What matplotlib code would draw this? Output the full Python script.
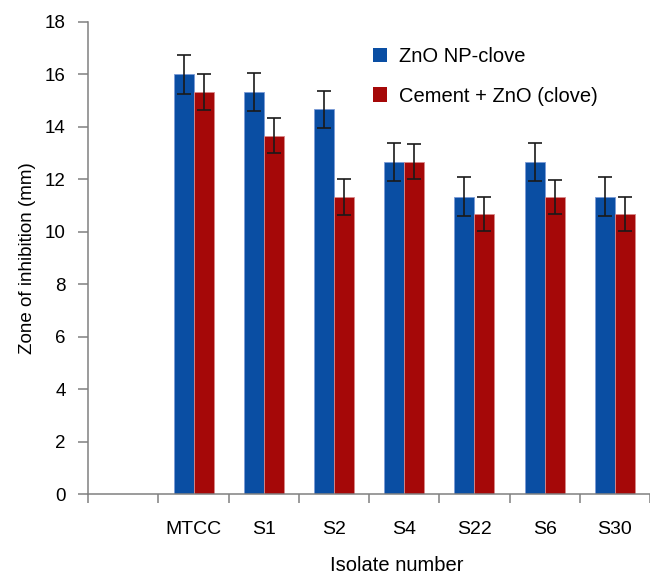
import matplotlib.pyplot as plt
from matplotlib.patches import Patch
import numpy as np

plt.rcParams['font.family'] = ['Liberation Sans', 'DejaVu Sans']

# data
isolates = ['', 'MTCC', 'S1', 'S2', 'S4', 'S22', 'S6', 'S30']
zno_np = [16.0, 15.33, 14.67, 12.67, 11.33, 12.67, 11.33]
zno_np_err = [0.73, 0.73, 0.70, 0.72, 0.74, 0.72, 0.74]
cement_zno = [15.33, 13.67, 11.33, 12.67, 10.67, 11.33, 10.67]
cement_zno_err = [0.67, 0.67, 0.67, 0.66, 0.65, 0.66, 0.65]

blue = '#0a4ea3'
red = '#a50808'

fig = plt.figure(figsize=(6.5, 5.74), dpi=100)
ax = fig.add_axes([0.1358, 0.1389, 0.8642, 0.823])

x = np.arange(1, len(isolates))
w = 0.285
err_kw = dict(ecolor='#1a1a1a', elinewidth=1.2, capsize=5, capthick=1.2)
ax.bar(x - w / 2, zno_np, w, yerr=zno_np_err, color=blue,
       edgecolor='#7b9bd6', linewidth=0.6, error_kw=err_kw, label='ZnO NP-clove')
ax.bar(x + w / 2, cement_zno, w, yerr=cement_zno_err, color=red,
       edgecolor='#d88a8a', linewidth=0.6, error_kw=err_kw, label='Cement + ZnO (clove)')

ax.set_xlim(-0.5, len(isolates) - 0.5)
ax.set_ylim(0, 18)
ax.set_yticks(range(0, 19, 2))
ax.tick_params(axis='y', labelsize=13.5, length=7.2, width=1.1, color='#808080', pad=9)

ax.set_xticks(range(len(isolates)))
ax.set_xticklabels(isolates, fontsize=14)
ax.set_xticks(np.arange(-0.5, len(isolates), 1), minor=True)
ax.tick_params(axis='x', which='major', length=0, pad=19)
ax.tick_params(axis='x', which='minor', length=6.5, width=1.1, color='#808080')

for s in ['top', 'right']:
    ax.spines[s].set_visible(False)
for s in ['left', 'bottom']:
    ax.spines[s].set_color('#808080')
    ax.spines[s].set_linewidth(1.1)
ax.spines['bottom'].set_clip_on(False)

ax.set_xlabel('Isolate number', fontsize=14.5, labelpad=13, x=0.55)
ax.set_ylabel('Zone of inhibition (mm)', fontsize=13.5, labelpad=6.5)

handles = [Patch(facecolor=blue, edgecolor='none'), Patch(facecolor=red, edgecolor='none')]
ax.legend(handles, ['ZnO NP-clove', 'Cement + ZnO (clove)'], loc='upper left',
          bbox_to_anchor=(0.507, 0.946), frameon=False, fontsize=14.5,
          handlelength=0.7, handleheight=0.7, handletextpad=0.6,
          labelspacing=1.0, borderpad=0, borderaxespad=0)

fig.savefig('out.png', dpi=100)
